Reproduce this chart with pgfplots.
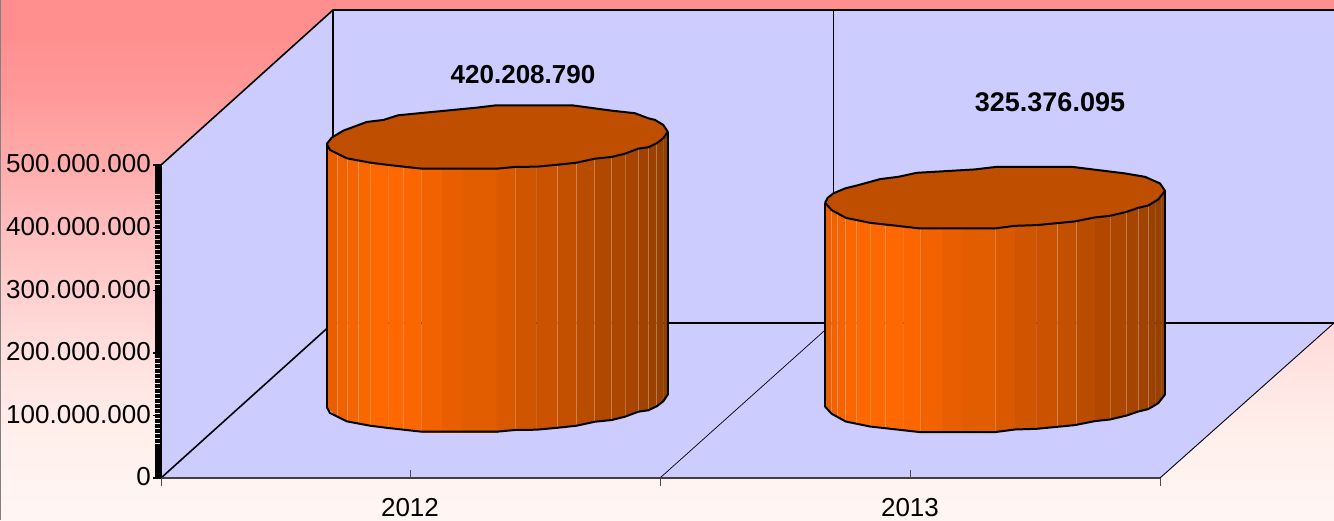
\documentclass[border=0pt]{standalone}
\usepackage{fontspec}
\setmainfont{Liberation Sans}
\usepackage{pgfplots}
\usepackage{pgfplotstable}
\pgfplotsset{compat=1.18}

\definecolor{wall}{RGB}{204,204,255}
\definecolor{lid}{RGB}{191,78,0}
\definecolor{bgA}{RGB}{255,142,142}
\definecolor{bgB}{RGB}{255,154,154}
\definecolor{bgC}{RGB}{255,172,172}
\definecolor{bgD}{RGB}{255,198,198}
\definecolor{bgE}{RGB}{255,224,222}
\definecolor{bgF}{RGB}{255,240,236}
\definecolor{bgG}{RGB}{255,246,243}
\pgfdeclareverticalshading{bgshade}{100bp}{color(0bp)=(bgG); color(25bp)=(bgG); color(32.7bp)=(bgF); color(41.3bp)=(bgE); color(50bp)=(bgD); color(59.1bp)=(bgC); color(65.4bp)=(bgB); color(72.1bp)=(bgA); color(100bp)=(bgA)}

% shades of the cylinder side, left to right
\definecolor{f1}{RGB}{235,94,0}
\definecolor{f2}{RGB}{240,98,0}
\definecolor{f3}{RGB}{245,100,0}
\definecolor{f4}{RGB}{250,102,0}
\definecolor{f5}{RGB}{255,104,0}
\definecolor{f6}{RGB}{255,104,0}
\definecolor{f7}{RGB}{251,102,0}
\definecolor{f8}{RGB}{242,98,0}
\definecolor{f9}{RGB}{233,94,0}
\definecolor{f10}{RGB}{226,92,0}
\definecolor{f11}{RGB}{217,88,0}
\definecolor{f12}{RGB}{208,85,0}
\definecolor{f13}{RGB}{202,82,0}
\definecolor{f14}{RGB}{194,80,0}
\definecolor{f15}{RGB}{186,76,0}
\definecolor{f16}{RGB}{178,72,0}
\definecolor{f17}{RGB}{173,71,0}
\definecolor{f18}{RGB}{166,68,0}
\definecolor{f19}{RGB}{160,66,0}
\definecolor{f20}{RGB}{156,64,0}
\definecolor{f21}{RGB}{152,64,0}
\definecolor{f22}{RGB}{146,64,0}

% one pixel of the picture in axis units, and the height of the cylinder base
\newcommand\ppx{1597444}
\newcommand\basey{123003200}

% polygon given in picture pixels
\newcommand\pxpoly[2]{\addplot[#1] table[row sep=\\, x=x, y expr=(478-\thisrow{p})*\ppx]{x p\\ #2};}
% side strip of a cylinder: value, colour, x1, d1, x2, d2
\newcommand\facet[6]{\addplot[fill=#2, draw=#2, line width=0.2pt] table[row sep=\\, x=x, y expr=\thisrow{v}*#1+\thisrow{d}*\ppx+\basey]{x d v\\ #3 #4 1\\ #5 #6 1\\ #5 #6 0\\ #3 #4 0\\};}
% light seam or black side edge: style, value, x, d
\newcommand\edge[4]{\addplot[#1] table[row sep=\\, x=x, y expr=\thisrow{v}*#2+\thisrow{d}*\ppx+\basey]{x d v\\ #3 #4 1\\ #3 #4 0\\};}

\tikzset{seam/.style={white, opacity=0.22, line width=0.6pt}, rim/.style={black, line width=2pt, line join=round}}

% rim of each cylinder: x pixel, offset in pixels from the centre; front first, then back
\pgfplotstableread{
x d
326.7 -6
330 -12
346.7 -20.3
370 -24.7
388.3 -27
421.7 -30.7
496.7 -30.7
515 -29
536.7 -28.7
558.3 -26.7
576.7 -24.7
595 -20.7
611.7 -19
625 -15.7
638.3 -10.7
648.3 -9.3
656.7 -5.3
663.3 -0.3
667.7 6.3
663.3 13
655 18
648.3 19.7
635 24.7
611.7 27.3
571.7 32.7
496.7 32.7
476.7 30.3
398.3 22.7
383.3 18
366.7 16
343.3 7.3
331.7 0.3
326.7 -6
}\rimA
\pgfplotstableread{
x d
825 -5.5
831.7 -12.8
845.7 -20.5
870 -25.5
920 -31.1
995 -31.1
1015 -28.5
1036.7 -27.8
1075 -24.1
1095 -20.1
1110 -18.5
1126.7 -14.5
1138.3 -10.5
1148.3 -8.1
1158.3 -2.1
1165 6.5
1160 13.9
1145 20.5
1125 23.9
1071.7 30.5
996.7 30.5
975 27.9
916.7 24.5
898.3 20.5
880 18.2
858.3 12.2
845 8.9
833.3 3.9
827.7 -0.5
825 -5.5
}\rimB

\begin{document}
\begin{tikzpicture}[x=1pt,y=1pt]
\path[use as bounding box, shade, shading=bgshade] (0,0) rectangle (1334,520);
\draw[gray, line width=1pt] (0.5,0) -- (0.5,520);
\begin{axis}[
  at={(161pt,42pt)}, anchor=south west,
  scale only axis, width=999pt, height=313pt,
  clip=false, axis on top,
  xmin=161, xmax=1160, ymin=0, ymax=500000000,
  axis x line*=bottom, axis y line*=left,
  x axis line style={-, draw=black!75, line width=1.6pt},
  y axis line style={-, black, line width=1.6pt},
  tick align=outside,
  xtick={161,660,1160}, xticklabels={},
  x tick style={black!70, line width=0.9pt},
  major tick length=8pt, minor tick length=6pt,
  extra x ticks={410,910}, extra x tick labels={2012,2013},
  extra x tick style={tick align=inside, tick style={black!70, line width=0.9pt}},
  xticklabel style={yshift=-17pt},
  ytick={0,100000000,200000000,300000000,400000000,500000000},
  minor y tick num=49,
  y tick style={black, line width=1.4pt},
  minor y tick style={black, line width=1.1pt},
  scaled y ticks=false,
  /pgf/number format/.cd, fixed, 1000 sep={.}, assume math mode=true,
  /pgfplots/.cd,
  tick label style={font=\fontsize{26}{26}\selectfont},
  yticklabel style={inner sep=2pt, yshift=1pt},
]
% walls and floor
\pxpoly{fill=wall, draw=none}{161 478\\ 333 323\\ 333 10\\ 161 165\\}
\pxpoly{fill=wall, draw=none}{333 10\\ 1334 10\\ 1334 323\\ 333 323\\}
\pxpoly{fill=wall, draw=none}{161 478\\ 333 323\\ 1334 323\\ 1160 478\\}
\pxpoly{black, line width=0.7pt}{833 10\\ 833 323\\}
\pxpoly{black, line width=0.7pt}{660 478\\ 833 323\\}
\pxpoly{black, line width=1.6pt}{161 165\\ 333 10\\ 1334 10\\}
\pxpoly{black, line width=1.6pt}{333 10\\ 333 323\\}
\pxpoly{black, line width=1.6pt}{161 478\\ 333 323\\ 1334 323\\}
\pxpoly{black, line width=0.9pt}{1334 323\\ 1160 478\\}

% 2012
\facet{420208790}{f1}{326.7}{-6}{337.3}{-15.6}
\facet{420208790}{f2}{337.3}{-15.6}{347.3}{-20.4}
\facet{420208790}{f3}{347.3}{-20.4}{358.3}{-22.2}
\facet{420208790}{f4}{358.3}{-22.2}{370}{-24.7}
\facet{420208790}{f5}{370}{-24.7}{388.3}{-27}
\facet{420208790}{f6}{388.3}{-27}{403.3}{-28.7}
\facet{420208790}{f7}{403.3}{-28.7}{421.7}{-30.7}
\facet{420208790}{f8}{421.7}{-30.7}{441.7}{-30.7}
\facet{420208790}{f9}{441.7}{-30.7}{461.7}{-30.7}
\facet{420208790}{f10}{461.7}{-30.7}{496.7}{-30.7}
\facet{420208790}{f11}{496.7}{-30.7}{515}{-29}
\facet{420208790}{f12}{515}{-29}{536.7}{-28.7}
\facet{420208790}{f13}{536.7}{-28.7}{557.3}{-26.7}
\facet{420208790}{f14}{557.3}{-26.7}{576.7}{-24.7}
\facet{420208790}{f15}{576.7}{-24.7}{594.3}{-20.7}
\facet{420208790}{f16}{594.3}{-20.7}{611.7}{-19}
\facet{420208790}{f17}{611.7}{-19}{625}{-15.7}
\facet{420208790}{f18}{625}{-15.7}{638.3}{-10.7}
\facet{420208790}{f19}{638.3}{-10.7}{648.3}{-9.3}
\facet{420208790}{f20}{648.3}{-9.3}{656.7}{-5.3}
\facet{420208790}{f21}{656.7}{-5.3}{663.3}{-0.3}
\facet{420208790}{f22}{663.3}{-0.3}{667.7}{6.3}
\edge{seam}{420208790}{337.3}{-15.6}
\edge{seam}{420208790}{347.3}{-20.4}
\edge{seam}{420208790}{358.3}{-22.2}
\edge{seam}{420208790}{370}{-24.7}
\edge{seam}{420208790}{403.3}{-28.7}
\edge{seam}{420208790}{515}{-29}
\edge{seam}{420208790}{557.3}{-26.7}
\edge{seam}{420208790}{576.7}{-24.7}
\edge{seam}{420208790}{594.3}{-20.7}
\edge{seam}{420208790}{611.7}{-19}
\edge{seam}{420208790}{625}{-15.7}
\edge{seam}{420208790}{638.3}{-10.7}
\edge{seam}{420208790}{648.3}{-9.3}
\edge{seam}{420208790}{656.7}{-5.3}
\addplot[rim, skip coords between index={19}{100}] table[x=x, y expr=\thisrow{d}*\ppx+\basey]{\rimA};
\edge{rim}{420208790}{326.7}{-6}
\edge{rim}{420208790}{667.7}{6.3}
\addplot[rim, fill=lid] table[x=x, y expr=\thisrow{d}*\ppx+\basey+420208790]{\rimA};

% 2013
\facet{325376095}{f1}{825}{-5.5}{831.7}{-12.8}
\facet{325376095}{f2}{831.7}{-12.8}{837.3}{-15.9}
\facet{325376095}{f3}{837.3}{-15.9}{845.7}{-20.5}
\facet{325376095}{f4}{845.7}{-20.5}{856.7}{-22.8}
\facet{325376095}{f5}{856.7}{-22.8}{870}{-25.5}
\facet{325376095}{f5}{870}{-25.5}{885.7}{-27.3}
\facet{325376095}{f6}{885.7}{-27.3}{903.3}{-29.2}
\facet{325376095}{f7}{903.3}{-29.2}{920}{-31.1}
\facet{325376095}{f8}{920}{-31.1}{941.7}{-31.1}
\facet{325376095}{f9}{941.7}{-31.1}{961.7}{-31.1}
\facet{325376095}{f10}{961.7}{-31.1}{995}{-31.1}
\facet{325376095}{f11}{995}{-31.1}{1015}{-28.5}
\facet{325376095}{f12}{1015}{-28.5}{1036.7}{-27.8}
\facet{325376095}{f13}{1036.7}{-27.8}{1057.3}{-25.8}
\facet{325376095}{f14}{1057.3}{-25.8}{1076.7}{-23.8}
\facet{325376095}{f15}{1076.7}{-23.8}{1095}{-20.1}
\facet{325376095}{f16}{1095}{-20.1}{1110}{-18.5}
\facet{325376095}{f17}{1110}{-18.5}{1126.7}{-14.5}
\facet{325376095}{f18}{1126.7}{-14.5}{1138.3}{-10.5}
\facet{325376095}{f19}{1138.3}{-10.5}{1148.3}{-8.1}
\facet{325376095}{f20}{1148.3}{-8.1}{1155.7}{-4.3}
\facet{325376095}{f21}{1155.7}{-4.3}{1161.7}{2.2}
\facet{325376095}{f22}{1161.7}{2.2}{1165}{6.5}
\edge{seam}{325376095}{831.7}{-12.8}
\edge{seam}{325376095}{837.3}{-15.9}
\edge{seam}{325376095}{845.7}{-20.5}
\edge{seam}{325376095}{856.7}{-22.8}
\edge{seam}{325376095}{870}{-25.5}
\edge{seam}{325376095}{885.7}{-27.3}
\edge{seam}{325376095}{920}{-31.1}
\edge{seam}{325376095}{995}{-31.1}
\edge{seam}{325376095}{1057.3}{-25.8}
\edge{seam}{325376095}{1076.7}{-23.8}
\edge{seam}{325376095}{1110}{-18.5}
\edge{seam}{325376095}{1126.7}{-14.5}
\edge{seam}{325376095}{1138.3}{-10.5}
\edge{seam}{325376095}{1148.3}{-8.1}
\addplot[rim, skip coords between index={16}{100}] table[x=x, y expr=\thisrow{d}*\ppx+\basey]{\rimB};
\edge{rim}{325376095}{825}{-5.5}
\edge{rim}{325376095}{1165}{6.5}
\addplot[rim, fill=lid] table[x=x, y expr=\thisrow{d}*\ppx+\basey+325376095]{\rimB};

\node[font=\fontsize{26}{26}\selectfont\bfseries] at (axis cs:523,644000000) {420.208.790};
\node[font=\fontsize{27}{27}\selectfont\bfseries] at (axis cs:1050,600600000) {325.376.095};
\end{axis}
\end{tikzpicture}
\end{document}
